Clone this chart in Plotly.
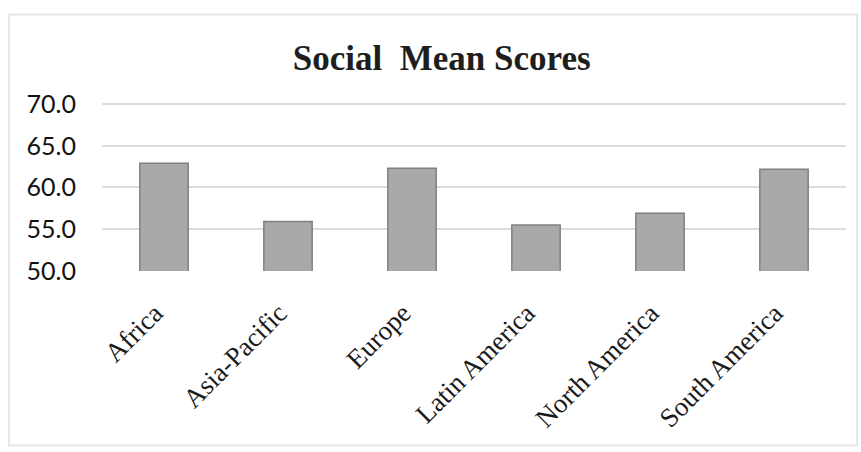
import plotly.graph_objects as go

regions = ["Africa", "Asia-Pacific", "Europe", "Latin America", "North America", "South America"]
social_mean = [62.9, 55.9, 62.3, 55.5, 56.9, 62.2]
y_ticks = [50, 55, 60, 65, 70]
y_tick_text = ["50.0", "55.0", "60.0", "65.0", "70.0"]

fig = go.Figure(
    go.Bar(
        x=regions,
        y=social_mean,
        width=0.39,
        marker=dict(color="#a9a9a9", line=dict(color="#808080", width=1.5)),
    )
)

fig.update_layout(
    width=861,
    height=452,
    margin=dict(l=102, r=15, t=100, b=181),
    paper_bgcolor="white",
    plot_bgcolor="white",
    showlegend=False,
    title=dict(
        text="<b>Social  Mean Scores</b>",
        x=0.513,
        xanchor="center",
        y=0.872,
        yanchor="middle",
        font=dict(family="Liberation Serif", size=35, color="#1e1e1e"),
    ),
    xaxis=dict(
        tickangle=-45,
        tickfont=dict(family="Liberation Serif", size=27, color="#1a1a1a"),
        showgrid=False,
        showline=False,
        ticklabelstandoff=20,
        ticklabelshift=-9,
    ),
    yaxis=dict(
        range=[49.97, 70.5],
        tickvals=y_ticks,
        ticktext=y_tick_text,
        tickfont=dict(family="Lato", size=25, color="#111111"),
        showgrid=True,
        gridcolor="#dcdcdc",
        gridwidth=1.5,
        zeroline=False,
        showline=False,
        ticklabelstandoff=25,
    ),
    shapes=[
        dict(type="rect", xref="paper", yref="paper",
             x0=-0.125, x1=1.015, y0=-1.02, y1=1.5,
             line=dict(color="#e6e6e6", width=2), layer="below"),
    ],
)

fig.write_html("out.html")
